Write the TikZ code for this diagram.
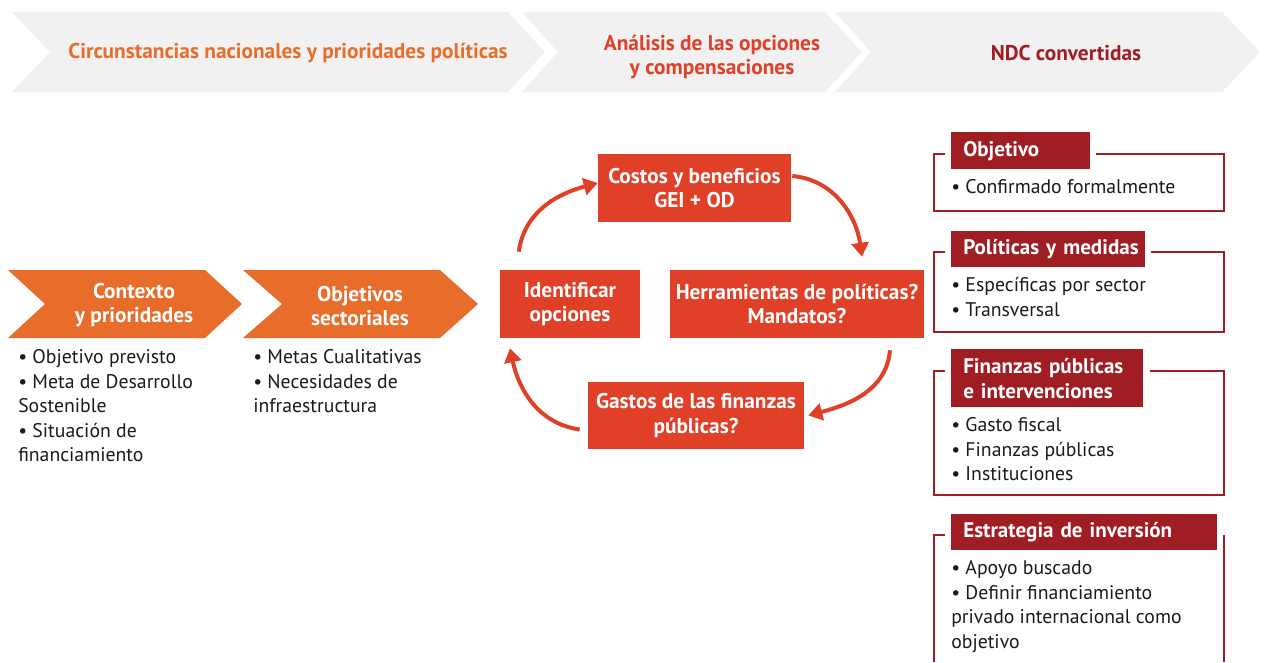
\documentclass[tikz,border=0pt]{standalone}
\usepackage{fontspec}
\setmainfont{PT Sans}
\usetikzlibrary{arrows.meta}
\definecolor{hdrgray}{HTML}{F1F1F1}
\definecolor{orng}{HTML}{E86C2A}
\definecolor{cycred}{HTML}{E04027}
\definecolor{dkred}{HTML}{A11D24}
\definecolor{txt}{HTML}{1A1A1A}
\newcommand{\tabin}{\hspace*{9pt}}
\tikzset{
  hdrtext/.style={font=\bfseries\fontsize{16}{18.5}\selectfont, align=center, inner sep=0pt},
  chevtext/.style={font=\bfseries\fontsize{16}{18.5}\selectfont, align=center, text=white, inner sep=0pt},
  bodytext/.style={font=\fontsize{14.8}{18.4}\selectfont, align=left, text=txt, inner sep=0pt, anchor=north west},
  cycbox/.style={fill=cycred, text=white, font=\bfseries\fontsize{16}{18.5}\selectfont, align=center, inner sep=0pt},
  cyc/.style={draw=cycred, line width=3pt, -{Triangle[length=10.5pt, width=12.75pt]}},
  tabbox/.style={fill=dkred, text=white, font=\bfseries\fontsize{15.8}{18.5}\selectfont, align=left, anchor=north west, inner xsep=0pt, inner ysep=0pt},
  frame/.style={draw=dkred, line width=1.125pt},
}
\begin{document}
\begin{tikzpicture}[x=0.75pt,y=-0.75pt]
\useasboundingbox (0,0) rectangle (1264,662);
% header chevrons
\fill[hdrgray] (12,12) -- (508,12) -- (545,52) -- (508,92) -- (12,92) -- (50,52) -- cycle;
\fill[hdrgray] (522,12) -- (825,12) -- (862,52) -- (825,92) -- (522,92) -- (558,52) -- cycle;
\fill[hdrgray] (835,12) -- (1222,12) -- (1260,52) -- (1222,92) -- (835,92) -- (871,52) -- cycle;
\node[hdrtext, text=orng] (h1) at (288,53) {Circunstancias nacionales y prioridades políticas};
\node[hdrtext, text=cycred] (h2) at (712,57) {Análisis de las opciones\\y compensaciones};
\node[hdrtext, text=dkred] (h3) at (1066,53) {NDC convertidas};
% orange chevrons
\fill[orng] (8,270) -- (205,270) -- (242,304) -- (205,338) -- (8,338) -- (45,304) -- cycle;
\fill[orng] (243,270) -- (440,270) -- (478,304) -- (440,338) -- (243,338) -- (282,304) -- cycle;
\node[chevtext] (c1) at (134,305) {Contexto\\y prioridades};
\node[chevtext] (c2) at (360,306) {Objetivos\\sectoriales};
\node[bodytext] (b1) at (18,349.5) {• Objetivo previsto\\• Meta de Desarrollo\\Sostenible\\• Situación de\\financiamiento};
\node[bodytext] (b2) at (253,349.5) {• Metas Cualitativas\\• Necesidades de\\infraestructura};
% cycle
\node[cycbox, minimum width=105pt, minimum height=51pt] (ident) at (570,304) {Identificar\\opciones};
\node[cycbox, minimum width=144.75pt, minimum height=51pt] (cost) at (694.5,188) {Costos y beneficios\\GEI + OD};
\node[cycbox, minimum width=190.5pt, minimum height=51pt] (herr) at (797,304) {Herramientas de políticas?\\Mandatos?};
\node[cycbox, minimum width=162pt, minimum height=50.25pt] (gast) at (696,415.5) {Gastos de las finanzas\\públicas?};
\draw[cyc] ([xshift=14.25pt,yshift=13.5pt]ident.north west) to[out=82,in=195] ([yshift=3.75pt]cost.west);
\draw[cyc] ([xshift=0.75pt,yshift=9pt]cost.east) to[out=-5,in=98] ([xshift=48.75pt,yshift=9.75pt]herr.north);
\draw[cyc] ([xshift=69.75pt,yshift=-9pt]herr.south) to[out=-95,in=15] ([xshift=3pt]gast.east);
\draw[cyc] ([xshift=-6pt,yshift=-10.5pt]gast.west) to[out=172,in=-78] ([xshift=-45pt,yshift=-7.5pt]ident.south);
% right column
\draw[frame] (945,154) -- (934,154) -- (934,211) -- (1224,211) -- (1224,154) -- (1096,154);
\node[tabbox, minimum height=27.75pt, text width=104.25pt] (t1) at (951,132) {\tabin Objetivo};
\node[bodytext] (r1) at (951,179.5) {• Confirmado formalmente};
\draw[frame] (945,252) -- (934,252) -- (934,332) -- (1224,332) -- (1224,252) -- (1151,252);
\node[tabbox, minimum height=27pt, text width=145.5pt] (t2) at (951,231) {\tabin Políticas y medidas};
\node[bodytext] (r2) at (951,277.5) {• Específicas por sector\\• Transversal};
\draw[frame] (945,371) -- (934,371) -- (934,495) -- (1224,495) -- (1224,371) -- (1150,371);
\node[tabbox, minimum height=43.5pt, text width=144pt] (t3) at (951,349) {\tabin Finanzas públicas\\\tabin e intervenciones};
\node[bodytext] (r3) at (951,417.5) {• Gasto fiscal\\• Finanzas públicas\\• Instituciones};
\draw[frame] (945,535) -- (934,535) -- (934,662);
\draw[frame] (1224,535) -- (1224,662);
\node[tabbox, minimum height=27pt, text width=199.5pt] (t4) at (951,514) {\tabin Estrategia de inversión};
\node[bodytext] (r4) at (951,560.5) {• Apoyo buscado\\• Definir financiamiento\\privado internacional como\\objetivo};
\end{tikzpicture}
\end{document}
